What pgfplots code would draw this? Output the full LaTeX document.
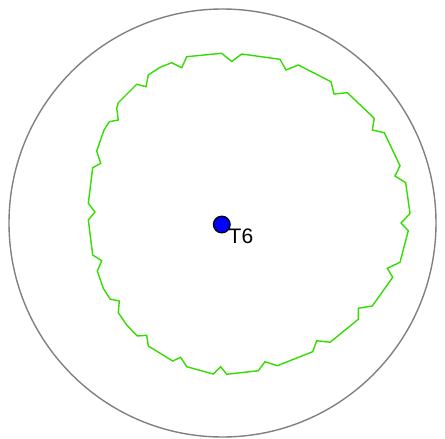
\documentclass[border=0pt]{standalone}
\usepackage{pgfplots}
\pgfplotsset{compat=1.18}
\usepackage{fontspec}
\setmainfont{Liberation Sans}
\definecolor{grn}{RGB}{51,221,0}
\begin{document}
\begin{tikzpicture}
\begin{axis}[
  width=445pt, height=439pt, scale only axis,
  xmin=0, xmax=445, ymin=0, ymax=439,
  y dir=reverse, hide axis, clip=false,
]
\path (rel axis cs:0,0) rectangle (rel axis cs:1,1);
\draw[color=gray, line width=1.4pt] (axis cs:222.5,223) ellipse [x radius=213.5, y radius=214];
\addplot[color=grn, line width=1.4pt, mark=none] coordinates {
(221.7,53.3) (231.7,61.5) (241.7,54) (280,59.3) (286,70) (298.3,65)
(331,81.7) (334,94) (347.3,92.7) (374.3,118.3) (372.3,130) (384.3,132.7)
(400,165.7) (395,176) (405.7,182.7) (410,213.5) (401,223) (408.3,230.7)
(400,262.3) (387.3,268.3) (392.7,277.3) (372.3,306) (358.3,308.3) (358.3,319.3)
(330,342.3) (316.7,340.7) (312.7,351.7) (277.3,365.7) (265,361.7) (258.3,370.7)
(226.7,374.3) (220.7,366.7) (213.3,374) (186.7,366.7) (180.7,357.3) (172.7,361)
(148.3,346) (146.7,335.3) (137.3,336) (126.7,325) (118.3,312.7) (119.3,301)
(110,299) (103.3,288.3) (97.3,271) (101.7,260.7) (92.7,255) (88.3,220)
(95,212) (88.3,203.3) (92.7,167.7) (100.7,163.3) (96.7,151) (104,130)
(109.3,121.7) (118.3,120) (116.7,108.3) (118.3,102.7) (136.7,84.3) (146,86.7)
(148.3,75) (160,67.3) (171.7,62.7) (181.7,67.7) (186.7,56.7) (221.7,53.3)
};
\addplot[only marks, mark=*, mark size=8.3pt, mark options={fill=blue, draw=black, line width=1.3pt}] coordinates {(221.8,224.5)};
\node[anchor=north west, inner sep=0pt, font=\fontsize{21}{24}\selectfont] at (axis cs:228.5,229) {T6};
\end{axis}
\end{tikzpicture}
\end{document}
